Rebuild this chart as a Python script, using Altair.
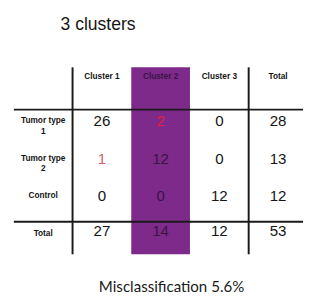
import altair as alt
import pandas as pd

# ---- data ----
title_text = "3 clusters"
footer_text = "Misclassification 5.6%"
col_keys = ["label", "Cluster 1", "Cluster 2", "Cluster 3", "Total"]
header_labels = ["Cluster 1", "Cluster 2", "Cluster 3", "Total"]
row_keys = ["header", "r1", "r2", "r3", "total"]
row_labels = ["Tumor type\n1", "Tumor type\n2", "Control", "Total"]
counts = [
    [26, 2, 0, 28],
    [1, 12, 0, 13],
    [0, 0, 12, 12],
    [27, 14, 12, 53],
]
# cell kinds: n = normal, p = inside highlighted column, m = misclassified
kinds = [
    ["n", "m2", "n", "n"],
    ["m1", "p", "n", "n"],
    ["n", "p", "n", "n"],
    ["n", "p", "n", "n"],
]
highlight_col = ["Cluster 2"]
vline_cols = ["Cluster 1", "Total"]
hline_rows = ["r1", "total"]

# ---- tables ----
header_df = pd.DataFrame({"col": header_labels, "row": "header", "text": header_labels,
                          "kind": ["n", "p", "n", "n"]})
label_df = pd.DataFrame({"col": "label", "row": row_keys[1:], "text": row_labels})
cells = []
for i, r in enumerate(row_keys[1:]):
    for j, c in enumerate(header_labels):
        cells.append({"col": c, "row": r, "text": str(counts[i][j]), "kind": kinds[i][j]})
cell_df = pd.DataFrame(cells)
body_df = cell_df[cell_df.row != "total"]
total_df = cell_df[cell_df.row == "total"]

xs = alt.Scale(domain=col_keys, range=[6, 307.5], paddingInner=0, paddingOuter=0)
ys = alt.Scale(domain=row_keys, range=[62, 254], paddingInner=0, paddingOuter=0)
cs = alt.Scale(domain=["n", "p", "m1", "m2"], range=["#151515", "#3a1546", "#d8606e", "#e0203c"])

X = lambda **k: alt.X("col:N", scale=xs, axis=None, **k)
Y = lambda **k: alt.Y("row:N", scale=ys, axis=None, **k)

rect = alt.Chart(pd.DataFrame({"col": highlight_col})).mark_rect(color="#7e2a8a").encode(
    x=X(), y=alt.value(57), y2=alt.value(249))

vlines = alt.Chart(pd.DataFrame({"col": vline_cols})).mark_rule(color="#1a1a1a", strokeWidth=2).encode(
    x=X(bandPosition=0), y=alt.value(57), y2=alt.value(249))

hlines = alt.Chart(pd.DataFrame({"row": hline_rows})).mark_rule(color="#1a1a1a", strokeWidth=2).encode(
    y=Y(bandPosition=0), x=alt.value(6), x2=alt.value(303))

header = alt.Chart(header_df).mark_text(font="Liberation Sans", fontWeight="bold", fontSize=8.5, dy=-15).encode(
    x=X(), y=Y(), text="text:N", color=alt.Color("kind:N", scale=cs, legend=None))

labels = alt.Chart(label_df).mark_text(font="Liberation Sans", fontWeight="bold", fontSize=8.5,
                                       lineBreak="\n", dy=-8, color="#151515").encode(
    x=X(), y=Y(), text="text:N")

body = alt.Chart(body_df).mark_text(font="Liberation Sans", fontSize=15.5, dy=-7).encode(
    x=X(), y=Y(), text="text:N", color=alt.Color("kind:N", scale=cs, legend=None))

total = alt.Chart(total_df).mark_text(font="Liberation Sans", fontSize=15.5, dy=-10).encode(
    x=X(), y=Y(), text="text:N", color=alt.Color("kind:N", scale=cs, legend=None))

title = alt.Chart(pd.DataFrame({"t": [title_text]})).mark_text(
    font="Liberation Sans", fontSize=18, align="left", baseline="alphabetic", color="#151515").encode(
    x=alt.value(54), y=alt.value(19), text="t:N")

footer = alt.Chart(pd.DataFrame({"t": [footer_text]})).mark_text(
    font="Lato", fontSize=15.5, align="center", baseline="alphabetic", color="#1a1a1a").encode(
    x=alt.value(168), y=alt.value(288), text="t:N")

chart = alt.layer(rect, vlines, hlines, header, labels, body, total, title, footer).properties(
    width=303, height=293, autosize=alt.AutoSizeParams(type="none"), padding=0
).configure_view(stroke=None)

chart.save("out.html", embed_options={"renderer": "svg", "actions": False})
